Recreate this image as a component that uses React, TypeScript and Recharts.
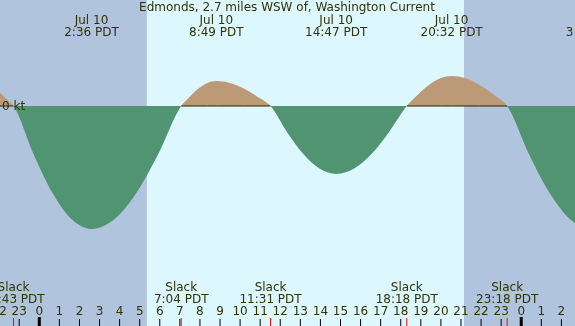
import { Area, ComposedChart, Line, ReferenceArea, ReferenceLine, XAxis, YAxis } from "recharts";

// hours relative to midnight Jul 10 (negative = Jul 9 evening)
const hours = [-2.0, -1.64, -1.283, -0.312, 0.659, 1.629, 2.6, 3.717, 4.833, 5.95, 7.067, 7.504, 7.942, 8.379, 8.817, 9.492, 10.167, 10.842, 11.517, 12.333, 13.15, 13.967, 14.783, 15.662, 16.542, 17.421, 18.3, 18.858, 19.417, 19.975, 20.533, 21.225, 21.917, 22.608, 23.3, 24.37, 25.44, 26.51, 27.58];
// current speed in knots, flood positive, ebb negative
const knots = [0.14, 0.07, 0, -0.47, -0.87, -1.136, -1.23, -1.136, -0.87, -0.47, 0, 0.096, 0.177, 0.231, 0.25, 0.231, 0.177, 0.096, 0, -0.26, -0.481, -0.628, -0.68, -0.628, -0.481, -0.26, 0, 0.115, 0.212, 0.277, 0.3, 0.277, 0.212, 0.115, 0, -0.475, -0.877, -1.146, -1.24];

const slackHours = [-1.283, 7.067, 11.517, 18.3, 23.3];
const slackLabels = ["22:43 PDT", "7:04 PDT", "11:31 PDT", "18:18 PDT", "23:18 PDT"];

const maxHours = [2.6, 8.817, 14.783, 20.533, 27.58];
const maxDates = ["Jul 10", "Jul 10", "Jul 10", "Jul 10", "Jul 11"];
const maxLabels = ["2:36 PDT", "8:49 PDT", "14:47 PDT", "20:32 PDT", "3:35 PDT"];

const sunrise = 5.36;
const sunset = 21.15;

const hourTicks = [-2, -1, 0, 1, 2, 3, 4, 5, 6, 7, 8, 9, 10, 11, 12, 13, 14, 15, 16, 17, 18, 19, 20, 21, 22, 23, 24, 25, 26];

const title = "Edmonds, 2.7 miles WSW of, Washington Current";

const X_MIN = -1.957;
const X_MAX = 26.678;
const Y_MIN = -2.2;
const Y_MAX = 1.06;

const W = 575;
const H = 326;
const TEXT = "#333300";
const FONT = "DejaVu Sans";
const ZERO_FRAC = Y_MAX / (Y_MAX - Y_MIN);

const data = hours.map((h, i) => {
  const v = knots[i];
  const nearFlood = v > 0 || (v === 0 && ((i > 0 && knots[i - 1] > 0) || (i < knots.length - 1 && knots[i + 1] > 0)));
  return { h, v, zero: nearFlood ? 0 : null };
});

function HourTick({ viewBox, hour }: any) {
  const x = viewBox.x;
  const label = ((hour % 24) + 24) % 24;
  return (
    <g>
      <text x={x} y={315} textAnchor="middle" fontFamily={FONT} fontSize={12} fill={TEXT}>
        {label}
      </text>
      {label === 0 ? (
        <rect x={x - 1.5} y={317} width={3} height={9} fill="#000" />
      ) : (
        <line x1={x} x2={x} y1={319} y2={326} stroke="#000" strokeWidth={1} />
      )}
    </g>
  );
}

function SlackLabel({ viewBox, time }: any) {
  const x = viewBox.x;
  return (
    <g>
      <text x={x} y={291} textAnchor="middle" fontFamily={FONT} fontSize={12} fill={TEXT}>Slack</text>
      <text x={x} y={303} textAnchor="middle" fontFamily={FONT} fontSize={12} fill={TEXT}>{time}</text>
      <line x1={x} x2={x} y1={318} y2={326} stroke="#ff0000" strokeWidth={1} />
    </g>
  );
}

function MaxLabel({ viewBox, date, time }: any) {
  const x = viewBox.x;
  return (
    <g>
      <text x={x} y={24} textAnchor="middle" fontFamily={FONT} fontSize={12} fill={TEXT}>{date}</text>
      <text x={x} y={36} textAnchor="middle" fontFamily={FONT} fontSize={12} fill={TEXT}>{time}</text>
    </g>
  );
}

function ZeroLabel({ viewBox }: any) {
  return (
    <text x={2} y={viewBox.y + 4} fontFamily={FONT} fontSize={12} fill={TEXT}>0 kt</text>
  );
}

export default function App() {
  return (
    <div style={{ position: "fixed", left: 0, top: 0, width: W, height: H }}>
      <ComposedChart width={W} height={H} data={data} margin={{ top: 0, right: 0, bottom: 0, left: 0 }}>
        <defs>
          <linearGradient id="flow" gradientUnits="userSpaceOnUse" x1={0} y1={0} x2={0} y2={H}>
            <stop offset={ZERO_FRAC} stopColor="#bc9a78" />
            <stop offset={ZERO_FRAC} stopColor="#509472" />
          </linearGradient>
        </defs>
        <XAxis dataKey="h" type="number" domain={[X_MIN, X_MAX]} allowDataOverflow hide />
        <YAxis type="number" domain={[Y_MIN, Y_MAX]} allowDataOverflow hide />

        <ReferenceArea x1={X_MIN} x2={sunrise} y1={Y_MIN} y2={Y_MAX} fill="#b0c4de" fillOpacity={1} stroke="none" />
        <ReferenceArea x1={sunrise} x2={sunset} y1={Y_MIN} y2={Y_MAX} fill="#ddf7ff" fillOpacity={1} stroke="none" />
        <ReferenceArea x1={sunset} x2={X_MAX} y1={Y_MIN} y2={Y_MAX} fill="#b0c4de" fillOpacity={1} stroke="none" />

        <Area type="monotone" dataKey="v" baseValue={0} fill="url(#flow)" fillOpacity={1} stroke="none" isAnimationActive={false} />
        <Line type="linear" dataKey="zero" stroke="#222200" strokeWidth={1} dot={false} connectNulls={false} isAnimationActive={false} />

        <ReferenceLine y={0} stroke="none" label={<ZeroLabel />} />
        {hourTicks.map((t) => (
          <ReferenceLine key={`h-${t}`} x={t} stroke="none" ifOverflow="visible" label={<HourTick hour={t} />} />
        ))}
        {slackHours.map((t, i) => (
          <ReferenceLine key={`s-${i}`} x={t} stroke="none" ifOverflow="visible" label={<SlackLabel time={slackLabels[i]} />} />
        ))}
        {maxHours.map((t, i) => (
          <ReferenceLine key={`m-${i}`} x={t} stroke="none" ifOverflow="visible" label={<MaxLabel date={maxDates[i]} time={maxLabels[i]} />} />
        ))}
      </ComposedChart>
      <svg width={W} height={H} style={{ position: "absolute", left: 0, top: 0, pointerEvents: "none" }}>
        <text x={287} y={11} textAnchor="middle" fontFamily={FONT} fontSize={12} fill={TEXT}>
          {title}
        </text>
      </svg>
    </div>
  );
}
